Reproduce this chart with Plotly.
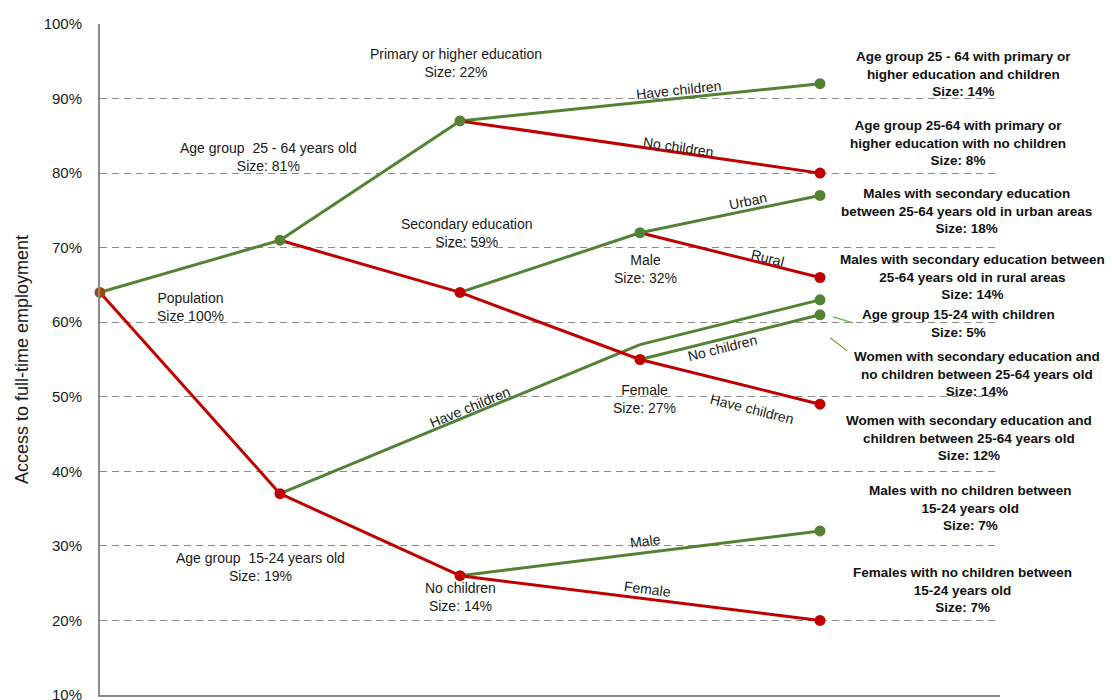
import math
import plotly.graph_objects as go

# ---------------- data ----------------
node_names = ["Population", "Age 25-64", "Age 15-24", "Primary or higher", "Secondary",
              "15-24 no children", "Male", "Female", "Primary + children", "Primary no children",
              "Male urban", "Male rural", "Female no children", "Female children",
              "15-24 children (mid)", "15-24 children", "15-24 no children male",
              "15-24 no children female"]
node_level = [0, 1, 1, 2, 2, 2, 3, 3, 4, 4, 4, 4, 4, 4, 3, 4, 4, 4]
node_value = [64, 71, 37, 87, 64, 26, 72, 55, 92, 80, 77, 66, 61, 49, 57, 63, 32, 20]

edge_from = [0, 0, 1, 1, 4, 4, 3, 3, 6, 6, 7, 7, 2, 14, 2, 5, 5]
edge_to = [1, 2, 3, 4, 6, 7, 8, 9, 10, 11, 12, 13, 14, 15, 5, 16, 17]
edge_branch = ["up", "down", "up", "down", "up", "down", "up", "down", "up", "down",
               "up", "down", "up", "up", "down", "up", "down"]
edge_label = ["", "", "", "", "", "", "Have children", "No children", "Urban", "Rural",
              "No children", "Have children", "Have children", "", "", "Male", "Female"]

node_label = {
    0: "Population<br>Size 100%",
    1: "Age group  25 - 64 years old<br>Size: 81%",
    2: "Age group  15-24 years old<br>Size: 19%",
    3: "Primary or higher education<br>Size: 22%",
    4: "Secondary education<br>Size: 59%",
    5: "No children<br>Size: 14%",
    6: "Male<br>Size: 32%",
    7: "Female<br>Size: 27%",
}
end_label = {
    8: "Age group 25 - 64 with primary or<br>higher education and children<br>Size: 14%",
    9: "Age group 25-64 with primary or<br>higher education with no children<br>Size: 8%",
    10: "Males with secondary education<br>between 25-64 years old in urban areas<br>Size: 18%",
    11: "Males with secondary education between<br>25-64 years old in rural areas<br>Size: 14%",
    15: "Age group 15-24 with children<br>Size: 5%",
    12: "Women with secondary education and<br>no children between 25-64 years old<br>Size: 14%",
    13: "Women with secondary education and<br>children between 25-64 years old<br>Size: 12%",
    16: "Males with no children between<br>15-24 years old<br>Size: 7%",
    17: "Females with no children between<br>15-24 years old<br>Size: 7%",
}
y_ticks = [10, 20, 30, 40, 50, 60, 70, 80, 90, 100]
y_title = "Access to full-time employment"

# ---------------- styles / positions ----------------
W, H = 1112, 700
M = dict(l=100, r=112, t=24, b=5)
X_RANGE = [0, 5]
Y_RANGE = [10, 100]
px_x = (W - M["l"] - M["r"]) / (X_RANGE[1] - X_RANGE[0])
px_y = (H - M["t"] - M["b"]) / (Y_RANGE[1] - Y_RANGE[0])

GREEN = "#548235"
RED = "#C00000"
BROWN = "#9E4A0E"
branch_color = {"up": GREEN, "down": RED}
TXT = "#1a1a1a"
FONT = "Liberation Sans, Arial, sans-serif"
LBL = 14
BLD = 13.5

# node label offsets (pixels)
node_label_shift = {0: (90, -15), 1: (-12, 83), 2: (-20, -73), 3: (-4, 58), 4: (7, 59),
                    5: (0, -21), 6: (5, -36), 7: (4, -39)}
# end label offsets (pixels)
end_label_shift = {8: (143, 10), 9: (138, 30), 10: (146, -16), 11: (152, 0), 15: (138, -24),
                   12: (157, -59), 13: (149, -34), 16: (150, 23), 17: (142, 30)}
# edge label: (fraction along edge, pixel shift up)
edge_label_pos = {6: (0.607, 8), 7: (0.607, 6), 8: (0.6, 9), 9: (0.711, 7), 10: (0.456, -9),
                  11: (0.622, -22), 12: (0.528, 8), 15: (0.515, 12), 16: (0.52, 10)}

fig = go.Figure()

# lines: green first, then red on top
for br in ["up", "down"]:
    for i, (a, b) in enumerate(zip(edge_from, edge_to)):
        if edge_branch[i] != br:
            continue
        fig.add_trace(go.Scatter(
            x=[node_level[a], node_level[b]], y=[node_value[a], node_value[b]],
            mode="lines", line=dict(color=branch_color[br], width=3),
            hoverinfo="skip", showlegend=False))

# markers
incoming = {b: edge_branch[i] for i, b in enumerate(edge_to)}
mk_x, mk_y, mk_c = [], [], []
for n in range(len(node_names)):
    if n == 14:
        continue
    mk_x.append(node_level[n])
    mk_y.append(node_value[n])
    mk_c.append(BROWN if n == 0 else branch_color[incoming[n]])
fig.add_trace(go.Scatter(x=mk_x, y=mk_y, mode="markers",
                         marker=dict(size=11, color=mk_c, line=dict(width=0)),
                         hoverinfo="skip", showlegend=False, cliponaxis=False))

annotations = []
for n, txt in node_label.items():
    dx, dy = node_label_shift[n]
    annotations.append(dict(x=node_level[n], y=node_value[n], xref="x", yref="y",
                            text=txt, showarrow=False, xshift=dx, yshift=dy,
                            font=dict(family=FONT, size=LBL, color=TXT), align="center"))
for n, txt in end_label.items():
    dx, dy = end_label_shift[n]
    annotations.append(dict(x=node_level[n], y=node_value[n], xref="x", yref="y",
                            text="<b>" + txt + "</b>", showarrow=False, xshift=dx, yshift=dy,
                            font=dict(family=FONT, size=BLD, color="#111111"), align="center"))
for i, txt in enumerate(edge_label):
    if not txt:
        continue
    a, b = edge_from[i], edge_to[i]
    t, sh = edge_label_pos[i]
    x0, y0 = node_level[a], node_value[a]
    x1, y1 = node_level[b], node_value[b]
    ang = -math.degrees(math.atan2((y1 - y0) * px_y, (x1 - x0) * px_x))
    annotations.append(dict(x=x0 + t * (x1 - x0), y=y0 + t * (y1 - y0), xref="x", yref="y",
                            text=txt, showarrow=False, yshift=sh, textangle=ang,
                            font=dict(family=FONT, size=LBL, color=TXT)))

shapes = [
    dict(type="line", xref="x", yref="y", xsizemode="pixel", ysizemode="pixel",
         xanchor=node_level[12], yanchor=node_value[12], x0=13, y0=-2, x1=33, y1=-8,
         line=dict(color="#70AD47", width=1.3)),
    dict(type="line", xref="x", yref="y", xsizemode="pixel", ysizemode="pixel",
         xanchor=node_level[12], yanchor=node_value[12], x0=10, y0=-23, x1=27, y1=-36,
         line=dict(color="#70AD47", width=1.3)),
]

fig.update_layout(
    width=W, height=H, margin=M,
    paper_bgcolor="white", plot_bgcolor="white",
    annotations=annotations, shapes=shapes, showlegend=False,
    xaxis=dict(range=X_RANGE, showgrid=False, zeroline=False, showticklabels=False,
               showline=True, linecolor="#8a8a8a", linewidth=2, ticks="", fixedrange=True),
    yaxis=dict(range=Y_RANGE, tickvals=y_ticks, ticktext=[f"{v}%" for v in y_ticks],
               showgrid=True, gridcolor="#8c8c8c", gridwidth=1.2, griddash="7px,5px",
               zeroline=False, showline=True, linecolor="#8a8a8a", linewidth=2,
               ticks="outside", ticklen=13, tickcolor="rgba(0,0,0,0)",
               ticklabeloverflow="allow",
               tickfont=dict(family=FONT, size=15, color=TXT),
               title=dict(text=y_title, font=dict(family=FONT, size=18, color=TXT), standoff=10),
               automargin=False, fixedrange=True),
)

fig.write_html("out.html", post_script="document.body.style.margin='0';",
               config={"displayModeBar": False})
